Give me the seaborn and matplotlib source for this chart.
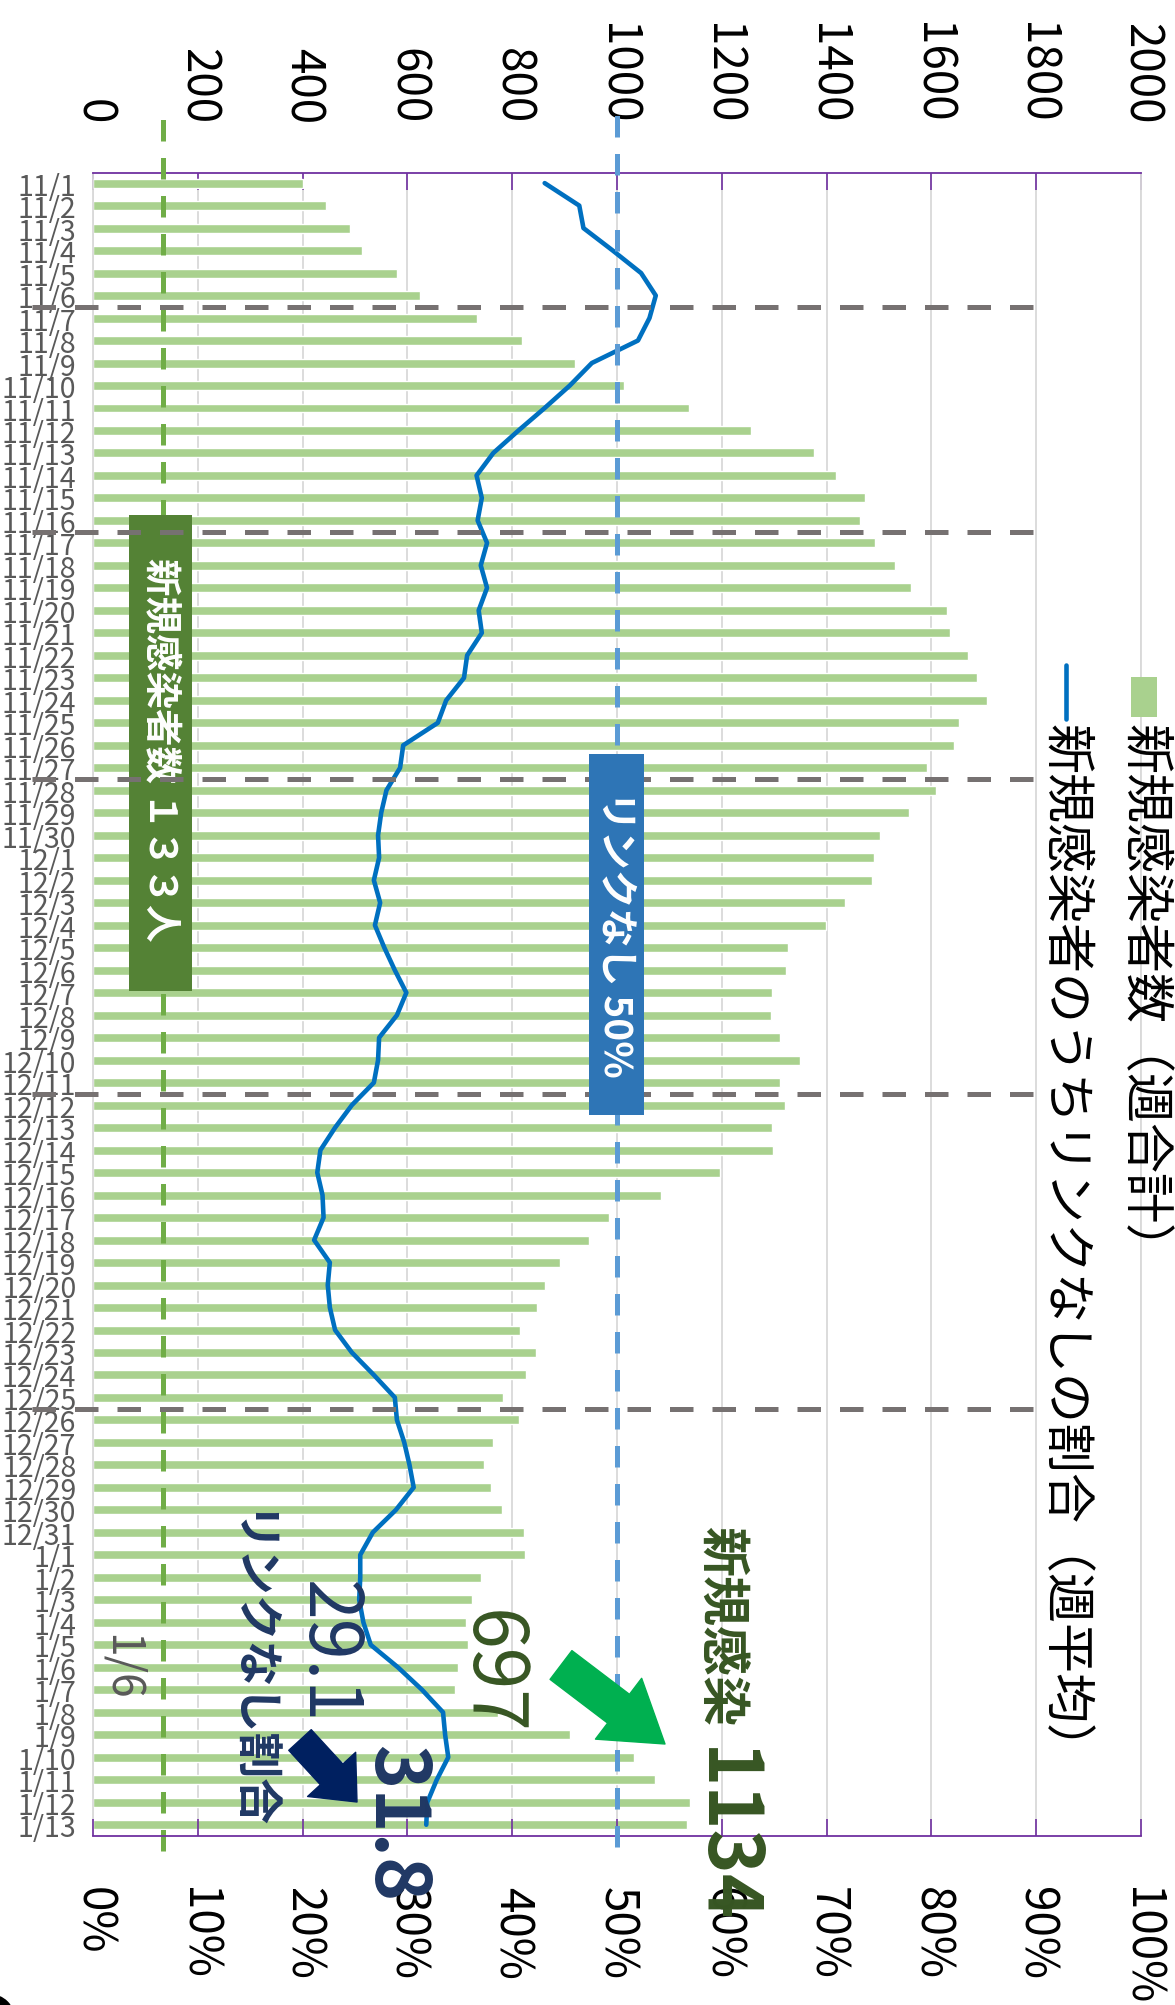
import numpy as np
import pandas as pd
import matplotlib
matplotlib.use("Agg")
import matplotlib.pyplot as plt
import seaborn as sns
from matplotlib.patches import Rectangle, FancyArrowPatch, Circle, ArrowStyle
from matplotlib.lines import Line2D

# ---------------- data ----------------
dates = ([f"11/{d}" for d in range(1, 31)] + [f"12/{d}" for d in range(1, 32)]
         + [f"1/{d}" for d in range(1, 14)])

weekly_cases = [400, 445, 490, 514, 580, 624, 732, 818, 920, 1013,
                1138, 1256, 1376, 1417, 1474, 1464, 1493, 1530, 1562, 1630,
                1635, 1670, 1687, 1706, 1652, 1643, 1591, 1608, 1557, 1501,
                1491, 1486, 1435, 1398, 1327, 1322, 1295, 1293, 1312, 1349,
                1312, 1320, 1295, 1298, 1197, 1084, 984, 947, 891, 862,
                847, 815, 845, 827, 783, 813, 764, 747, 759, 780, 823,
                825, 740, 723, 712, 715, 697, 690, 773, 911, 1032, 1073, 1140, 1134]

unlinked_pct = [43.1, 46.4, 46.8, 49.6, 52.3, 53.7, 53.1, 52.0, 47.6, 45.5,
                43.1, 40.6, 38.2, 36.6, 37.1, 36.7, 37.6, 37.0, 37.6, 36.8,
                37.1, 35.7, 35.4, 33.7, 32.9, 29.6, 29.3, 28.0, 27.5, 27.2,
                27.3, 26.8, 27.4, 26.9, 27.8, 28.8, 29.9, 29.0, 27.3, 27.2,
                26.8, 24.7, 23.1, 21.7, 21.4, 21.9, 22.0, 21.1, 22.6, 22.4,
                22.6, 23.1, 24.7, 26.8, 28.8, 29.0, 29.7, 30.2, 30.6, 28.9, 26.7,
                25.5, 25.5, 25.4, 25.8, 26.5, 29.1, 31.4, 33.4, 33.6, 33.9, 32.8, 31.9, 31.8]

count_ticks = list(range(0, 2001, 200))
pct_ticks = list(range(0, 101, 10))
week_break_after = ["11/6", "11/16", "11/27", "12/11", "12/25"]
case_ref = 133
pct_ref = 50

legend_cases = "新規感染者数（週合計）"
legend_pct = "新規感染者のうちリンクなしの割合（週平均）"

df = pd.DataFrame({"date": dates, "cases": weekly_cases, "pct": unlinked_pct,
                   "pos": np.arange(len(dates))})

# ---------------- style ----------------
sns.set_style("white")
plt.rcParams["font.family"] = ["Noto Sans CJK JP", "DejaVu Sans"]

W, H = 1175, 2006
fig = plt.figure(figsize=(W / 100, H / 100), dpi=100)


def P(x, y):
    return (x / W, 1 - y / H)


AX_L, AX_R, AX_T, AX_B = 93, 1141, 174, 1837
ax = fig.add_axes([AX_L / W, 1 - AX_B / H, (AX_R - AX_L) / W, (AX_B - AX_T) / H])

PURPLE = "#7030A0"
GRID = "#D9D9D9"

sns.barplot(data=df, x="cases", y="date", orient="h", color="#A9D18E",
            saturation=1, width=0.4, errorbar=None, ax=ax, zorder=2)
ax.set_xlim(0, 2000)
ax.set_ylim(len(dates) - 0.5, -0.45)
ax.grid(axis="x", color=GRID, lw=1.3)
ax.grid(axis="y", visible=False)
ax.set_axisbelow(True)
ax.set_xlabel("")
ax.set_ylabel("")

ax2 = ax.twiny()
sns.lineplot(data=df, x="pct", y="pos", sort=False, estimator=None,
             color="#0070C0", lw=3.3, ax=ax2, zorder=3)
ax2.set_xlim(0, 100)
ax2.set_ylim(len(dates) - 0.5, -0.45)
ax2.set_xlabel("")
ax2.set_ylabel("")

# axes / ticks
ax.xaxis.tick_top()
ax.set_xticks(count_ticks)
ax.set_xticklabels([str(t) for t in count_ticks])
ax.tick_params(axis="x", which="both", direction="in", length=12, width=1.2,
               color=PURPLE, labelsize=33, labelrotation=-90, pad=36,
               labelcolor="black", top=True, bottom=False)
ax.tick_params(axis="y", length=0, labelsize=20.5, labelcolor="#595959", pad=12)

ax2.xaxis.tick_bottom()
ax2.set_xticks(pct_ticks)
ax2.set_xticklabels([f"{t}%" for t in pct_ticks])
ax2.tick_params(axis="x", direction="in", length=12, width=1.2, color=PURPLE,
                labelsize=33, labelrotation=-90, pad=36, labelcolor="black",
                top=False, bottom=True)

ax.spines["bottom"].set_visible(False)
ax.spines["top"].set_color(PURPLE)
ax.spines["top"].set_linewidth(1.3)
ax.spines["left"].set_color(GRID)
ax.spines["left"].set_linewidth(1.3)
ax.spines["right"].set_color(GRID)
ax.spines["right"].set_linewidth(1.3)
for s in ["top", "left", "right"]:
    ax2.spines[s].set_visible(False)
ax2.spines["bottom"].set_color(PURPLE)
ax2.spines["bottom"].set_linewidth(1.3)

# reference lines
ax.axvline(case_ref, ymin=-0.009, ymax=1.034, color="#70AD47", lw=3.6,
           ls=(0, (4.3, 3.3)), clip_on=False, zorder=4)
ax2.axvline(pct_ref, ymin=-0.0066, ymax=1.0367, color="#5B9BD5", lw=3.6,
            ls=(0, (4.3, 3.3)), clip_on=False, zorder=4)

# green box (under gray week lines)
gbox = Rectangle(P(129, 992), 63 / W, (992 - 516) / H, transform=fig.transFigure,
                 facecolor="#548235", edgecolor="none", clip_on=False, zorder=5)
ax2.add_artist(gbox)
ax2.text(*P(160.5, 750), "新規感染者数 １３３人", transform=fig.transFigure,
         rotation=-90, ha="center", va="center", color="white",
         fontsize=27, fontweight="bold", zorder=6, clip_on=False)

# week separators
for d in week_break_after:
    ax2.axhline(dates.index(d) + 0.5, xmin=-0.058, xmax=0.898, color="#767171",
                lw=3.6, ls=(0, (4.7, 3.8)), clip_on=False, zorder=7)

# blue box (over everything)
fig.add_artist(Rectangle(P(589, 1116), 55 / W, (1116 - 755) / H,
                         transform=fig.transFigure, facecolor="#2E75B6",
                         edgecolor="none"))
fig.text(*P(616, 934), "リンクなし 50%", rotation=-90, ha="center", va="center",
         color="white", fontsize=28, fontweight="bold")

# legend (rotated)
fig.add_artist(Rectangle(P(1131, 718), 26 / W, 40 / H, transform=fig.transFigure,
                         facecolor="#A9D18E", edgecolor="none"))
fig.text(*P(1143, 724), legend_cases, rotation=-90, ha="center", va="top",
         color="black", fontsize=36)
fig.add_artist(Line2D([1066 / W, 1066 / W], [1 - 666 / H, 1 - 720 / H],
                      transform=fig.transFigure, color="#0070C0", lw=3.3))
fig.text(*P(1064, 724), legend_pct, rotation=-90, ha="center", va="top",
         color="black", fontsize=36)

# annotations
DG = "#375623"
NV = "#203864"
fig.text(*P(720, 1626), "新規感染", rotation=-90, ha="center", va="center",
         color=DG, fontsize=36, fontweight="bold")
fig.text(*P(724, 1836), "1134", rotation=-90, ha="center", va="center",
         color=DG, fontsize=54, fontweight="bold")
fig.text(*P(490, 1672), "697", rotation=-90, ha="center", va="center",
         color=DG, fontsize=54)
fig.text(*P(327, 1652), "29.1", rotation=-90, ha="center", va="center",
         color=NV, fontsize=53)
fig.text(*P(395, 1824), "31.8", rotation=-90, ha="center", va="center",
         color=NV, fontsize=54, fontweight="bold")
fig.text(*P(246, 1672), "リンクなし割合", rotation=-90, ha="center", va="center",
         color=NV, fontsize=33, fontweight="bold")
fig.text(*P(122, 1667), "1/6", rotation=-90, ha="center", va="center",
         color="#595959", fontsize=32)

fig.add_artist(FancyArrowPatch(P(561, 1666), P(665, 1745), transform=fig.transFigure,
                               arrowstyle=ArrowStyle.Simple(head_length=42, head_width=55, tail_width=26),
                               mutation_scale=1, color="#00B050", shrinkA=0, shrinkB=0))
fig.add_artist(FancyArrowPatch(P(300, 1741), P(357, 1803), transform=fig.transFigure,
                               arrowstyle=ArrowStyle.Simple(head_length=27, head_width=47, tail_width=22),
                               mutation_scale=1, color="#002060", shrinkA=0, shrinkB=0))

fig.add_artist(Circle((-0.10, -0.14), 0.25, transform=fig.dpi_scale_trans,
                      facecolor="black", edgecolor="none"))

fig.savefig("out.png", dpi=100)
